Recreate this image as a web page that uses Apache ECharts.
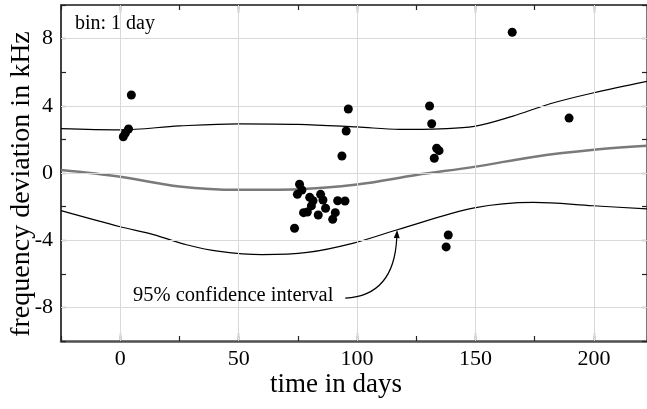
<!DOCTYPE html>
<html><head><meta charset="utf-8">
<script src="https://cdn.jsdelivr.net/npm/echarts@6/dist/echarts.min.js"></script>
<style>html,body{margin:0;padding:0;background:#fff}#c{width:647px;height:409px}</style>
</head><body><div id="c"></div>
<script>
// ---- data ----
const xTickLabels = [0, 50, 100, 150, 200];
const yTickLabels = [-8, -4, 0, 4, 8];

// measured frequency deviations: [time in days, deviation in kHz]
const measurements = [
  [1.3, 2.16], [2.2, 2.38], [3.5, 2.62], [4.7, 4.64],
  [73.6, -3.29], [74.8, -1.27], [75.7, -0.67], [76.7, -1.01],
  [77.4, -2.36], [79.0, -2.32], [80.0, -1.45], [80.7, -1.96],
  [81.4, -1.65], [83.6, -2.5], [84.6, -1.27], [85.6, -1.61],
  [86.7, -2.1], [89.7, -2.76], [90.8, -2.36], [91.8, -1.65],
  [93.6, 1.01], [94.9, -1.67], [95.4, 2.5], [96.3, 3.81],
  [130.6, 3.99], [131.5, 2.93], [132.6, 0.88], [133.6, 1.47],
  [134.6, 1.33], [137.6, -4.4], [138.5, -3.69],
  [165.5, 8.38], [189.5, 3.27]
];
// fitted curve
const fitLine = [
  [-25, 0.18], [0, -0.22], [25, -0.8], [50, -1.0], [75, -0.96],
  [100, -0.68], [125, -0.12], [150, 0.38], [175, 0.97], [200, 1.38], [222.4, 1.62]
];
// 95% confidence band
const upperBand = [
  [-25, 2.64], [0, 2.57], [25, 2.8], [50, 2.93], [75, 2.9], [100, 2.74],
  [118, 2.6], [135, 2.63], [149.5, 2.77], [165.5, 3.37], [181.5, 4.12],
  [199.5, 4.76], [222.4, 5.45]
];
const lowerBand = [
  [-25, -2.24], [0, -3.2], [14, -3.67], [28, -4.27], [42, -4.67], [60, -4.86],
  [79, -4.73], [98.5, -4.17], [117, -3.38], [149.5, -2.08], [174.5, -1.75],
  [199.6, -1.95], [222.4, -2.14]
];
const binText = 'bin: 1 day';
const bandText = '95% confidence interval';
// annotation arrow anchors (data coords)
const arrowStart = [95, -7.45];
const arrowCtrl = [115.6, -7.3];
const arrowTip = [116.9, -3.4];
const bandTextAnchor = [5.4, -7.3];

// ---- chart ----
const FONT = 'Liberation Serif';
const chart = echarts.init(document.getElementById('c'), null, {renderer: 'canvas'});
const axisCommon = {
  type: 'value', min: -25, max: 222.4, interval: 25,
  splitLine: {show: false}
};
const tickStyle = {color: '#222', width: 1.2};
const option = {
  animation: false,
  backgroundColor: '#fff',
  grid: {left: 61, right: 0, top: 5, bottom: 68, containLabel: false, outerBoundsMode: 'none'},
  xAxis: [
    Object.assign({}, axisCommon, {
      position: 'bottom',
      name: 'time in days', nameLocation: 'middle', nameGap: 30, nameMoveOverlap: false,
      nameTextStyle: {fontFamily: FONT, fontSize: 27, color: '#000', padding: [0, 36, 0, 0]},
      axisLine: {show: true, onZero: false, lineStyle: {color: '#505050', width: 2.5}},
      axisTick: {show: true, inside: true, length: 5, lineStyle: tickStyle},
      axisLabel: {
        fontFamily: FONT, fontSize: 22, color: '#000', margin: 7,
        formatter: v => (xTickLabels.indexOf(v) >= 0 ? String(v) : '')
      }
    }),
    Object.assign({}, axisCommon, {
      position: 'bottom',
      axisLine: {show: false, onZero: false},
      axisTick: {show: true, inside: true, length: 8, customValues: xTickLabels, lineStyle: tickStyle},
      axisLabel: {show: false}
    }),
    Object.assign({}, axisCommon, {
      position: 'top',
      axisLine: {show: true, onZero: false, lineStyle: {color: '#505050', width: 2}},
      axisTick: {show: true, inside: true, length: 5, lineStyle: tickStyle},
      axisLabel: {show: false}
    }),
    Object.assign({}, axisCommon, {
      position: 'top',
      axisLine: {show: false, onZero: false},
      axisTick: {show: true, inside: true, length: 8, customValues: xTickLabels, lineStyle: tickStyle},
      axisLabel: {show: false}
    })
  ],
  yAxis: [
    {
      type: 'value', min: -10, max: 10, interval: 2, position: 'left',
      name: 'frequency deviation in kHz', nameLocation: 'middle', nameGap: 25, nameMoveOverlap: false,
      nameTextStyle: {fontFamily: FONT, fontSize: 28, color: '#000', padding: [0, 22, 0, 0]},
      axisLine: {show: true, onZero: false, lineStyle: {color: '#000', width: 1.5}},
      axisTick: {show: true, inside: true, length: 5, lineStyle: tickStyle},
      axisLabel: {
        fontFamily: FONT, fontSize: 22, color: '#000', margin: 8,
        formatter: v => (yTickLabels.indexOf(v) >= 0 ? String(v) : '')
      },
      splitLine: {show: false}
    },
    {
      type: 'value', min: -10, max: 10, interval: 2, position: 'right',
      axisLine: {show: true, onZero: false, lineStyle: {color: '#505050', width: 1.5}},
      axisTick: {show: true, inside: true, length: 5, lineStyle: tickStyle},
      axisLabel: {show: false},
      splitLine: {show: false}
    }
  ],
  series: [
    {
      name: 'grid', type: 'scatter', data: [], z: 1, silent: true,
      markLine: {
        silent: true, symbol: 'none', animation: false,
        label: {show: false},
        lineStyle: {color: '#d9d9d9', type: 'solid', width: 1},
        data: xTickLabels.map(v => ({xAxis: v})).concat(yTickLabels.map(v => ({yAxis: v})))
      }
    },
    {
      name: 'upper', type: 'line', data: upperBand, smooth: 0.35, showSymbol: false, z: 3,
      lineStyle: {color: '#000', width: 1.2}
    },
    {
      name: 'lower', type: 'line', data: lowerBand, smooth: 0.35, showSymbol: false, z: 3,
      lineStyle: {color: '#000', width: 1.2}
    },
    {
      name: 'fit', type: 'line', data: fitLine, smooth: 0.35, showSymbol: false, z: 4,
      lineStyle: {color: '#7a7a7a', width: 2.5}
    },
    {
      name: 'data', type: 'scatter', data: measurements, symbol: 'circle', symbolSize: 9, z: 5,
      itemStyle: {color: '#000', opacity: 1}
    }
  ]
};
chart.setOption(option);

const p = v => chart.convertToPixel({xAxisIndex: 0, yAxisIndex: 0}, v);
const s = p(arrowStart), c = p(arrowCtrl), t = p(arrowTip), ta = p(bandTextAnchor);
const dx = t[0] - c[0], dy = t[1] - c[1];
const len = Math.sqrt(dx * dx + dy * dy);
const ux = dx / len, uy = dy / len;
const hl = 8, hw = 3;
const base = [t[0] - ux * hl, t[1] - uy * hl];
chart.setOption({
  graphic: [
    {
      type: 'text', left: 75, top: 14, z: 10,
      style: {text: binText, font: '20px "Liberation Serif"', fill: '#000'}
    },
    {
      type: 'text', x: ta[0], y: ta[1], z: 10,
      style: {text: bandText, font: '20.5px "Liberation Serif"', fill: '#000', textAlign: 'left', textVerticalAlign: 'middle'}
    },
    {
      type: 'bezierCurve', z: 10,
      shape: {x1: s[0], y1: s[1], cpx1: c[0], cpy1: c[1], x2: base[0], y2: base[1]},
      style: {stroke: '#000', lineWidth: 1.2, fill: null}
    },
    {
      type: 'polygon', z: 10,
      shape: {points: [t, [base[0] - uy * hw, base[1] + ux * hw], [base[0] + uy * hw, base[1] - ux * hw]]},
      style: {fill: '#000'}
    }
  ]
});
</script>
</body></html>
